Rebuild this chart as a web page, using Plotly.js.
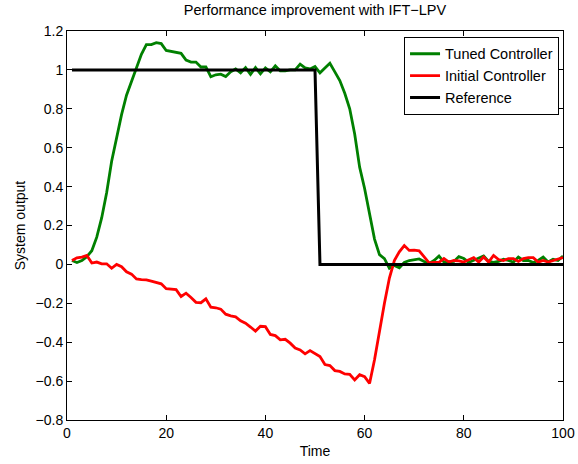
<!DOCTYPE html>
<html>
<head>
<meta charset="utf-8">
<script src="https://cdn.plot.ly/plotly-3.0.1.min.js"></script>
<style>html,body{margin:0;padding:0;background:#fff;}#chart{width:578px;height:464px;}</style>
</head>
<body>
<div id="chart"></div>
<script>
const time = Array.from({length: 100}, (_, i) => i + 1);

const tuned = [
  0.02, 0.01, 0.02, 0.04, 0.07, 0.14, 0.24, 0.37, 0.53, 0.66,
  0.77, 0.87, 0.94, 1.00, 1.08, 1.13, 1.13, 1.14, 1.135, 1.10,
  1.095, 1.09, 1.085, 1.05, 1.04, 1.04, 1.015, 1.015, 0.965, 0.975,
  0.978, 0.966, 0.99, 1.005, 0.985, 1.012, 0.977, 1.012, 0.98, 1.01,
  0.99, 1.021, 0.995, 0.995, 1.0, 1.0, 1.03, 1.01, 1.005, 1.017,
  0.985, 1.01, 1.034, 0.99, 0.945, 0.88, 0.80, 0.67, 0.50, 0.39,
  0.26, 0.13, 0.05, 0.03, -0.02, -0.005, -0.017, 0.01, 0.02, 0.025,
  0.028, 0.015, 0.005, 0.02, 0.043, 0.012, 0.015, 0.015, 0.04, 0.03,
  0.01, 0.02, 0.03, 0.043, 0.015, 0.01, 0.015, 0.026, 0.02, 0.012,
  0.038, 0.02, 0.02, 0.01, 0.02, 0.038, 0.012, 0.026, 0.02, 0.043
];

const initial = [
  0.02, 0.034, 0.038, 0.046, 0.007, 0.012, 0.003, 0.003, -0.02, 0.0,
  -0.012, -0.038, -0.05, -0.075, -0.078, -0.08, -0.086, -0.095, -0.1, -0.125,
  -0.128, -0.13, -0.165, -0.148, -0.17, -0.195, -0.197, -0.177, -0.22, -0.223,
  -0.23, -0.256, -0.265, -0.27, -0.29, -0.302, -0.322, -0.343, -0.318, -0.32,
  -0.36, -0.366, -0.388, -0.385, -0.405, -0.43, -0.44, -0.46, -0.443, -0.457,
  -0.474, -0.515, -0.52, -0.546, -0.55, -0.563, -0.565, -0.594, -0.567, -0.577,
  -0.612, -0.49, -0.34, -0.2, -0.07, 0.02, 0.065, 0.097, 0.072, 0.073,
  0.07, 0.04, 0.008, 0.01, 0.01, 0.03, 0.012, 0.02, 0.018, 0.012,
  0.025, 0.035, 0.012, 0.038, 0.012, 0.046, 0.025, 0.02, 0.03, 0.03,
  0.015, 0.03, 0.035, 0.035, 0.012, 0.02, 0.012, 0.02, 0.03, 0.035
];

const reference = time.map(t => (t <= 50 ? 1 : 0));

const seriesNames = ["Tuned Controller", "Initial Controller", "Reference"];
const seriesColors = ["#008000", "#ff0000", "#000000"];

const traces = [tuned, initial, reference].map((ys, i) => ({
  x: time,
  y: ys,
  type: "scatter",
  mode: "lines",
  name: seriesNames[i],
  line: {color: seriesColors[i], width: i === 2 ? 3 : 2.8}
}));

const fam = "Liberation Sans, Arial, sans-serif";
const font = {family: fam, size: 14, color: "#000"};

const layout = {
  width: 578,
  height: 464,
  margin: {l: 67, r: 15, t: 31, b: 44},
  paper_bgcolor: "#fff",
  plot_bgcolor: "#fff",
  font: font,
  title: {text: "Performance improvement with IFT\u2212LPV", font: {family: fam, size: 14.5, color: "#000"}, x: 0.545, xanchor: "center", y: 0.99, yanchor: "top"},
  xaxis: {
    range: [0, 100], dtick: 20, tick0: 0,
    showgrid: false, zeroline: false,
    showline: true, linecolor: "#000", linewidth: 1, mirror: "ticks",
    ticks: "inside", ticklen: 5, tickcolor: "#000",
    tickfont: {family: fam, size: 14, color: "#000"},
    title: {text: "Time", font: font, standoff: 6}
  },
  yaxis: {
    range: [-0.8, 1.2], dtick: 0.2, tick0: 0,
    showgrid: false, zeroline: false,
    showline: true, linecolor: "#000", linewidth: 1, mirror: "ticks",
    ticks: "inside", ticklen: 5, tickcolor: "#000",
    tickfont: {family: fam, size: 14, color: "#000"},
    title: {text: "System output", font: font, standoff: 6}
  },
  legend: {
    x: 0.992, y: 0.985, xanchor: "right", yanchor: "top",
    bgcolor: "#fff", bordercolor: "#000", borderwidth: 1,
    font: {family: fam, size: 14.5, color: "#000"}, tracegroupgap: 0
  },
  showlegend: true
};

Plotly.newPlot("chart", traces, layout, {displayModeBar: false, staticPlot: true});
</script>
</body>
</html>
